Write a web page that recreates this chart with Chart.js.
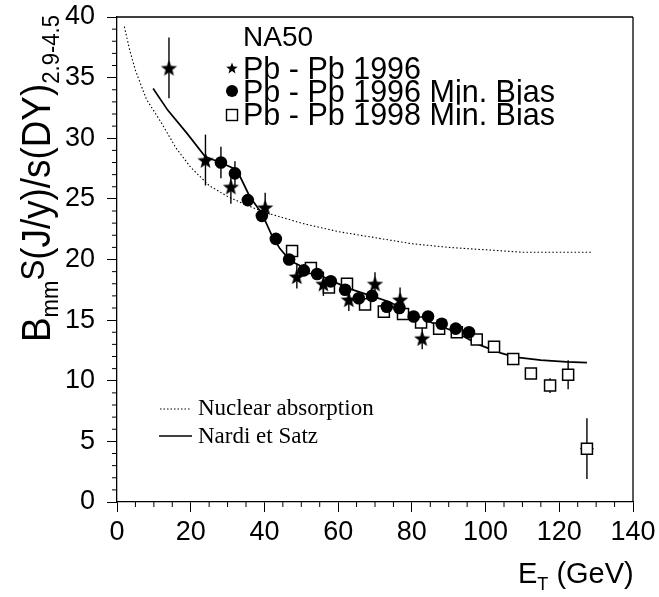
<!DOCTYPE html>
<html>
<head>
<meta charset="utf-8">
<script src="https://cdn.jsdelivr.net/npm/chart.js@4.4.0/dist/chart.umd.min.js"></script>
<style>
  html, body { margin: 0; padding: 0; background: #fff; }
</style>
</head>
<body>
<canvas id="chart" width="659" height="597"></canvas>
<script>
// NA50 J/psi suppression vs E_T

// Pb-Pb 1996 (stars)
const starX   = [14.1, 24.0, 30.9, 40.2, 48.8, 56.0, 62.9, 70.0, 76.8, 82.8];
const starY   = [35.8, 28.2, 26.0, 24.3, 18.6, 18.0, 16.7, 18.0, 16.7, 13.5];
const starErr = [2.5, 2.1, 1.4, 1.2, 1.0, 1.0, 0.95, 0.95, 1.0, 0.9];

// Pb-Pb 1996 Min. Bias (filled circles)
const circX   = [28.2, 32.0, 35.5, 39.3, 43.1, 46.7, 50.7, 54.3, 58.0, 61.9, 65.6, 69.2, 73.2, 76.6, 80.5, 84.4, 88.1, 91.9, 95.5];
const circY   = [28.0, 27.1, 24.9, 23.6, 21.7, 20.0, 19.1, 18.8, 18.2, 17.5, 16.8, 17.0, 16.1, 16.0, 15.3, 15.3, 14.7, 14.3, 14.0];
const circErr = [1.3, 1.0, 0.4, 0.4, 0.3, 0.3, 0.3, 0.3, 0.3, 0.3, 0.3, 0.3, 0.3, 0.3, 0.3, 0.3, 0.3, 0.3, 0.3];

// Pb-Pb 1998 Min. Bias (open squares)
const sqX    = [47.5, 52.6, 57.5, 62.4, 67.3, 72.4, 77.6, 82.5, 87.4, 92.2, 97.6, 102.3, 107.5, 112.3, 117.5, 122.4, 127.5];
const sqY    = [20.7, 19.3, 17.7, 18.0, 16.3, 15.7, 15.5, 14.8, 14.3, 14.0, 13.4, 12.8, 11.8, 10.6, 9.6, 10.5, 4.4];
const sqErr  = [0.3, 0.3, 0.3, 0.3, 0.3, 0.3, 0.3, 0.3, 0.3, 0.3, 0.3, 0.3, 0.3, 0.4, 0.6, 1.2, 2.5];
const sqXErr = [0, 0, 0, 0, 0, 0, 0, 0, 0, 0, 0, 0, 0, 0, 0, 0, 1.8];

// Nuclear absorption curve (dotted)
const absX = [2, 3.5, 5, 8, 12, 16, 20, 25, 30, 35, 40, 50, 60, 70, 80, 90, 100, 110, 120, 129];
const absY = [39.2, 37.2, 35.6, 33.2, 31.3, 29.2, 27.6, 26.1, 25.2, 24.5, 23.9, 23.0, 22.3, 21.8, 21.3, 21.0, 20.8, 20.6, 20.6, 20.6];

// Nardi et Satz curve (solid)
const nsX = [9.8, 13.8, 19.0, 23.9, 28.0, 32.5, 36.0, 39.3, 42.0, 44.2, 47.0, 49.6, 55.0, 63.0, 70.0, 74.0, 82.0, 87.0, 92.0, 98.0, 104.0, 108.0, 115.0, 122.0, 127.5];
const nsY = [34.1, 32.3, 30.4, 28.5, 28.0, 27.4, 25.2, 23.8, 22.0, 20.9, 19.9, 19.5, 18.7, 17.6, 16.9, 16.5, 15.2, 14.6, 14.0, 13.0, 12.3, 11.95, 11.7, 11.55, 11.5];

const xTicks = [0, 20, 40, 60, 80, 100, 120, 140];
const yTicks = [0, 5, 10, 15, 20, 25, 30, 35, 40];

const SANS = "'Liberation Sans', Arial, Helvetica, sans-serif";
const SERIF = "'Liberation Serif', 'Times New Roman', serif";

const pts = (xs, ys) => xs.map((v, i) => ({ x: v, y: ys[i] }));

function makeStar(R) {
    const c = document.createElement('canvas');
    const s = Math.ceil(2 * R + 2);
    c.width = s; c.height = s;
    const g = c.getContext('2d');
    g.beginPath();
    for (let k = 0; k < 10; k++) {
        const r = k % 2 ? R * 0.42 : R;
        const a = -Math.PI / 2 + k * Math.PI / 5;
        const px = s / 2 + r * Math.cos(a), py = s / 2 + r * Math.sin(a) + R * 0.1;
        k ? g.lineTo(px, py) : g.moveTo(px, py);
    }
    g.closePath();
    g.fillStyle = '#000';
    g.fill();
    return c;
}

const starImg = makeStar(8.5);
const starSmall = makeStar(6);

function line(ctx, x1, y1, x2, y2) {
    ctx.beginPath();
    ctx.moveTo(x1, y1);
    ctx.lineTo(x2, y2);
    ctx.stroke();
}

// text made of sub/superscript pieces, laid out along the current x direction
function piecesWidth(ctx, pieces) {
    return pieces.reduce((w, p) => {
        ctx.font = p.size + 'px ' + SANS;
        return w + ctx.measureText(p.t).width;
    }, 0);
}

function drawPieces(ctx, pieces, x0, y0) {
    let x = x0;
    pieces.forEach(p => {
        ctx.font = p.size + 'px ' + SANS;
        ctx.fillText(p.t, x, y0 + (p.dy || 0));
        x += ctx.measureText(p.t).width;
    });
}

const overlay = {
    id: 'overlay',
    beforeDatasetsDraw(chart) {
        const { ctx, scales: { x, y } } = chart;
        ctx.save();
        ctx.strokeStyle = '#000';
        ctx.lineWidth = 1.4;
        const bars = (xs, ys, es, xes) => xs.forEach((v, i) => {
            const px = x.getPixelForValue(v);
            const py = y.getPixelForValue(ys[i]);
            if (es[i]) line(ctx, px, y.getPixelForValue(ys[i] - es[i]), px, y.getPixelForValue(ys[i] + es[i]));
            if (xes && xes[i]) line(ctx, x.getPixelForValue(v - xes[i]), py, x.getPixelForValue(v + xes[i]), py);
        });
        bars(starX, starY, starErr);
        bars(circX, circY, circErr);
        bars(sqX, sqY, sqErr, sqXErr);
        ctx.restore();
    },
    afterDraw(chart) {
        const { ctx, chartArea: a, scales: { x, y } } = chart;
        ctx.save();
        ctx.strokeStyle = '#000';
        ctx.fillStyle = '#000';
        ctx.lineWidth = 1.3;

        // frame top and right
        line(ctx, a.left, a.top, a.right, a.top);
        line(ctx, a.right, a.top, a.right, a.bottom);

        // minor ticks
        ctx.lineWidth = 1;
        for (let v = 0; v <= 140; v += 5) {
            if (v % 20 === 0) continue;
            const px = x.getPixelForValue(v);
            line(ctx, px, a.bottom, px, a.bottom + 5);
        }
        for (let v = 0; v <= 40; v += 1) {
            if (v % 5 === 0) continue;
            const py = y.getPixelForValue(v);
            line(ctx, a.left - 5, py, a.left, py);
        }

        // NA50 legend
        ctx.textBaseline = 'alphabetic';
        ctx.textAlign = 'left';
        ctx.font = '28px ' + SANS;
        ctx.fillText('NA50', 243, 46);
        ctx.font = '30.5px ' + SANS;
        ctx.fillText('Pb - Pb 1996', 243, 79);
        ctx.fillText('Pb - Pb 1996 Min. Bias', 243, 102);
        ctx.fillText('Pb - Pb 1998 Min. Bias', 243, 125);
        ctx.drawImage(starSmall, 232 - starSmall.width / 2, 68 - starSmall.height / 2);
        ctx.beginPath();
        ctx.arc(232, 91, 6, 0, Math.PI * 2);
        ctx.fill();
        ctx.lineWidth = 1.4;
        ctx.strokeRect(226.5, 109.5, 11, 11);

        // model legend
        ctx.font = '23px ' + SERIF;
        ctx.fillText('Nuclear absorption', 198, 415);
        ctx.fillText('Nardi et Satz', 198, 443);
        ctx.lineWidth = 1;
        ctx.setLineDash([1.5, 2]);
        line(ctx, 160, 409, 190, 409);
        ctx.setLineDash([]);
        ctx.lineWidth = 1.6;
        line(ctx, 159, 436, 192, 436);

        // x title
        drawPieces(ctx, [
            { t: 'E', size: 29 },
            { t: 'T', size: 18, dy: 7 },
            { t: ' (GeV)', size: 29 }
        ], 518, 583);

        // y title (rotated, squeezed to the reference length)
        const yTitle = [
            { t: 'B', size: 40 },
            { t: 'mm', size: 24, dy: 8 },
            { t: 'S', size: 34, dy: -6 },
            { t: '(J/y)/s(DY)', size: 40 },
            { t: '2.9-4.5', size: 24, dy: 9 }
        ];
        const len = piecesWidth(ctx, yTitle);
        ctx.translate(50, 342);
        ctx.rotate(-Math.PI / 2);
        ctx.scale(327 / len, 1);
        drawPieces(ctx, yTitle, 0, 0);
        ctx.restore();
    }
};

new Chart(document.getElementById('chart'), {
    type: 'scatter',
    data: {
        datasets: [
            {
                label: 'Nuclear absorption',
                data: pts(absX, absY),
                showLine: true,
                borderColor: '#000',
                borderWidth: 1.1,
                borderDash: [1.5, 2.2],
                pointRadius: 0,
                order: 3,
            },
            {
                label: 'Nardi et Satz',
                data: pts(nsX, nsY),
                showLine: true,
                borderColor: '#000',
                borderWidth: 1.7,
                pointRadius: 0,
                order: 3,
            },
            {
                label: 'Pb - Pb 1998 Min. Bias',
                data: pts(sqX, sqY),
                pointStyle: 'rect',
                pointRadius: 7.8,
                backgroundColor: '#fff',
                borderColor: '#000',
                borderWidth: 1.5,
                order: 2,
            },
            {
                label: 'Pb - Pb 1996 Min. Bias',
                data: pts(circX, circY),
                pointStyle: 'circle',
                pointRadius: 6.3,
                backgroundColor: '#000',
                borderColor: '#000',
                borderWidth: 0,
                order: 1,
            },
            {
                label: 'Pb - Pb 1996',
                data: pts(starX, starY),
                pointStyle: starImg,
                pointRadius: 8,
                order: 0,
            },
        ],
    },
    options: {
        responsive: false,
        animation: false,
        events: [],
        layout: { padding: { top: 17, right: 26, left: 0, bottom: 0 } },
        plugins: {
            legend: { display: false },
            tooltip: { enabled: false },
        },
        scales: {
            x: {
                type: 'linear',
                min: 0,
                max: 140,
                afterBuildTicks: (s) => { s.ticks = xTicks.map(v => ({ value: v })); },
                afterFit: (s) => { s.height = 95; s.paddingLeft = 0; s.paddingRight = 0; },
                ticks: {
                    color: '#000',
                    padding: 4,
                    maxRotation: 0,
                    font: { family: SANS, size: 27 },
                },
                grid: {
                    drawOnChartArea: false,
                    tickLength: 10,
                    color: '#000',
                    lineWidth: 1,
                },
                border: { color: '#000', width: 1.3 },
            },
            y: {
                type: 'linear',
                min: 0,
                max: 40,
                afterBuildTicks: (s) => { s.ticks = yTicks.map(v => ({ value: v })); },
                afterFit: (s) => { s.width = 117; s.paddingTop = 0; s.paddingBottom = 0; },
                ticks: {
                    color: '#000',
                    padding: 12,
                    font: { family: SANS, size: 27 },
                },
                grid: {
                    drawOnChartArea: false,
                    tickLength: 10,
                    color: '#000',
                    lineWidth: 1,
                },
                border: { color: '#000', width: 1.3 },
            },
        },
    },
    plugins: [overlay],
});
</script>
</body>
</html>
